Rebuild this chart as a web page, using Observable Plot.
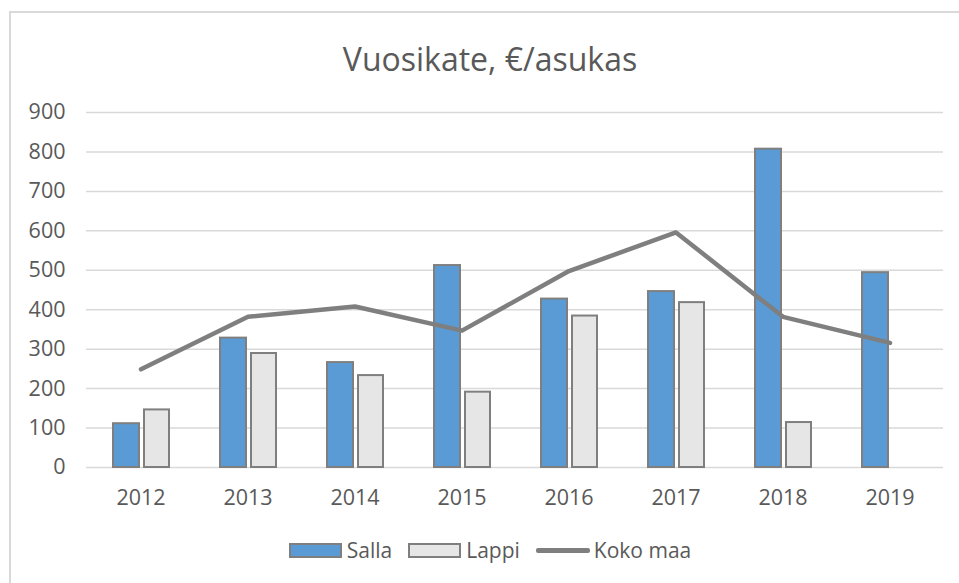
<!DOCTYPE html>
<html>
<head>
<meta charset="utf-8">
<script src="https://cdn.jsdelivr.net/npm/d3@7"></script>
<script src="https://cdn.jsdelivr.net/npm/@observablehq/plot@0.6"></script>
<style>
  html, body { margin: 0; padding: 0; background: #fff; }
  body { width: 959px; height: 583px; position: relative; overflow: hidden; font-family: "Open Sans", sans-serif; color: #595959; }
  #frame { position: absolute; left: 9px; top: 11px; width: 1000px; height: 700px; border-top: 2px solid #d9d9d9; border-left: 2px solid #d9d9d9; }
  #title { position: absolute; left: 9px; width: 962px; top: 37px; text-align: center; font-size: 32px; line-height: 44px; color: #595959; }
  #chart { position: absolute; left: 0; top: 90px; }
  #legend { position: absolute; left: 0; width: 980px; top: 536px; display: flex; justify-content: center; align-items: center; font-size: 21px; color: #595959; }
  .item { display: flex; align-items: center; margin: 0 8px; }
  .box { width: 49px; height: 11px; border: 2px solid #7f7f7f; margin-right: 5px; }
  .ln { width: 54px; height: 5px; background: #7f7f7f; margin-right: 4px; border-radius: 2px; }
</style>
</head>
<body>
<div id="frame"></div>
<div id="title">Vuosikate, €/asukas</div>
<div id="chart"></div>
<div id="legend"></div>
<script>
const years = ["2012", "2013", "2014", "2015", "2016", "2017", "2018", "2019"];
const salla = [111, 328, 266, 512, 427, 446, 807, 494];
const lappi = [146, 289, 233, 191, 384, 418, 114, null];
const kokoMaa = [249, 382, 408, 347, 498, 596, 382, 316];
const yTicks = [0, 100, 200, 300, 400, 500, 600, 700, 800, 900];

const seriesNames = ["Salla", "Lappi", "Koko maa"];
const colors = { Salla: "#5B9BD5", Lappi: "#E7E6E6", "Koko maa": "#7F7F7F" };

const sallaData = years.map((y, i) => ({ year: y, value: salla[i] }));
const lappiData = years.map((y, i) => ({ year: y, value: lappi[i] })).filter(d => d.value != null);
const lineData = years.map((y, i) => ({ year: y, value: kokoMaa[i] }));

const chart = Plot.plot({
  width: 959,
  height: 440,
  marginLeft: 86,
  marginRight: 16,
  marginTop: 22,
  marginBottom: 63,
  style: { fontFamily: "Open Sans, sans-serif", fontSize: "21.5px", color: "#595959", background: "transparent" },
  x: { type: "band", domain: years, padding: 0, label: null, tickSize: 0, tickPadding: 22 },
  y: { domain: [0, 900], ticks: yTicks, label: null, tickSize: 0, tickPadding: 21 },
  marks: [
    Plot.gridY(yTicks, { stroke: "#d9d9d9", strokeOpacity: 1, strokeWidth: 1.5 }),
    Plot.barY(sallaData, { x: "year", y: "value", fill: colors.Salla, stroke: "#7f7f7f", strokeWidth: 2, insetLeft: 26, insetRight: 55 }),
    Plot.barY(lappiData, { x: "year", y: "value", fill: colors.Lappi, stroke: "#7f7f7f", strokeWidth: 2, insetLeft: 57, insetRight: 25 }),
    Plot.lineY(lineData, { x: "year", y: "value", stroke: colors["Koko maa"], strokeWidth: 4.5, strokeLinejoin: "round" })
  ]
});
document.getElementById("chart").appendChild(chart);

const legend = document.getElementById("legend");
seriesNames.forEach(name => {
  const item = document.createElement("div");
  item.className = "item";
  const sw = document.createElement("div");
  if (name === "Koko maa") { sw.className = "ln"; }
  else { sw.className = "box"; sw.style.background = colors[name]; }
  const label = document.createElement("span");
  label.textContent = name;
  item.appendChild(sw);
  item.appendChild(label);
  legend.appendChild(item);
});
</script>
</body>
</html>
